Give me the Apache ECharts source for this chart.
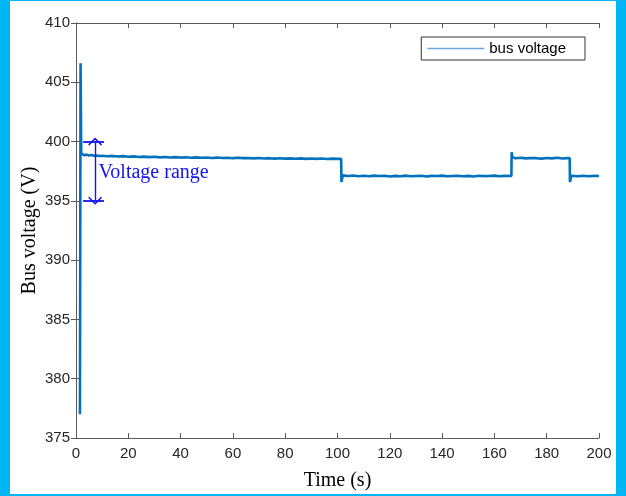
<!DOCTYPE html>
<html><head><meta charset="utf-8">
<script src="https://cdn.jsdelivr.net/npm/echarts@6/dist/echarts.min.js"></script>
<style>html,body{margin:0;padding:0;background:#00b5f4;}#c{width:626px;height:496px;}</style>
</head><body><div id="c"></div>
<script>
// time (s)
const time = [
 1.5,1.6,1.75,1.85,2.0,2.3,3,4,5,6,7,8,9,10,12,14,16,18,20,22,24,26,28,30,32,34,36,38,40,42,44,46,48,50,52,54,56,58,60,62,64,66,68,70,72,74,76,78,80,82,84,86,88,90,92,94,96,98,100,101.4,
 101.5,101.7,102.0,104,106,108,110,112,114,116,118,120,122,124,126,128,130,132,134,136,138,140,142,144,146,148,150,152,154,156,158,160,162,164,166.5,
 166.6,166.8,167.2,168,170,172,174,176,178,180,182,184,186,188,188.8,
 188.9,189.1,189.4,190,192,194,196,198,200
];
// bus voltage (V)
const voltage = [
 377.0,377.1,406.6,406.5,399.0,398.95,398.85,398.9,398.82,398.86,398.8,398.83,398.78,398.8,398.76,398.79,398.74,398.77,398.72,398.75,398.7,398.73,398.69,398.72,398.67,398.7,398.66,398.69,398.65,398.68,398.64,398.67,398.63,398.66,398.62,398.65,398.61,398.64,398.6,398.63,398.6,398.62,398.58,398.61,398.57,398.6,398.56,398.59,398.56,398.58,398.55,398.58,398.54,398.57,398.54,398.57,398.53,398.56,398.54,398.55,
 396.6,396.7,397.15,397.1,397.14,397.08,397.12,397.07,397.13,397.09,397.12,397.06,397.11,397.08,397.13,397.07,397.1,397.12,397.06,397.11,397.09,397.13,397.07,397.1,397.12,397.08,397.11,397.06,397.12,397.09,397.1,397.13,397.07,397.11,397.1,
 399.1,398.7,398.62,398.6,398.64,398.58,398.62,398.6,398.56,398.61,398.58,398.63,398.57,398.6,398.6,
 396.6,396.7,397.12,397.1,397.08,397.12,397.07,397.11,397.09
];
const xTicks = [0,20,40,60,80,100,120,140,160,180,200];
const yTicks = [375,380,385,390,395,400,405,410];
const rangeTop = 400, rangeBottom = 395;
const rangeLabel = 'Voltage range';
const seriesName = 'bus voltage';

const chart = echarts.init(document.getElementById('c'));
const axisCol = '#262626';
const lineCol = '#5a5a5a';
const base = {
  axisLine:{show:true,lineStyle:{color:lineCol,width:1}},
  axisTick:{show:true,inside:true,length:5,lineStyle:{color:lineCol}},
  splitLine:{show:false},
  axisLabel:{color:axisCol,fontFamily:'Liberation Sans, Arial',fontSize:15}
};
const annBlue = '#1414f0';
const chev = 'path://M0,0 L7,7 L5.8,8 L0,2.2 L-5.8,8 L-7,7 Z';
chart.setOption({
  animation:false,
  backgroundColor:'transparent',
  graphic:[{type:'rect',shape:{x:10,y:1,width:606,height:493},style:{fill:'#ffffff'},z:-100,silent:true}],
  grid:{left:76,right:27,top:23,bottom:58,containLabel:false},
  legend:{
    data:[{name:seriesName,icon:'path://M0,0 L100,0 L100,3 L0,3 Z'}],
    right:41,top:37,orient:'vertical',
    itemWidth:57,itemHeight:2,itemGap:0,
    padding:[4,19,4,6],
    borderColor:'#333',borderWidth:1,borderRadius:0,
    backgroundColor:'#fff',
    textStyle:{color:'#000',fontFamily:'Liberation Sans, Arial',fontSize:15},
    itemStyle:{color:'#6aa6d8'},
    lineStyle:{color:'#6aa6d8'}
  },
  xAxis:[
    Object.assign({},base,{type:'value',min:0,max:200,interval:20,position:'bottom',
      name:'Time (s)',nameLocation:'middle',nameGap:33,nameMoveOverlap:false,
      nameTextStyle:{fontFamily:'Liberation Serif, Times New Roman',fontSize:20,color:'#000'},
      axisLabel:Object.assign({},base.axisLabel,{margin:8})}),
    Object.assign({},base,{type:'value',min:0,max:200,interval:20,position:'top',axisLabel:{show:false}})
  ],
  yAxis:[
    Object.assign({},base,{type:'value',min:375,max:410,interval:5,position:'left',
      name:'Bus voltage (V)',nameLocation:'middle',nameGap:36,nameMoveOverlap:false,
      nameTextStyle:{fontFamily:'Liberation Serif, Times New Roman',fontSize:20,color:'#000'},
      axisLabel:Object.assign({},base.axisLabel,{margin:6})}),
    Object.assign({},base,{type:'value',min:375,max:410,interval:5,position:'right',axisLabel:{show:false}})
  ],
  series:[
    {name:seriesName,type:'line',xAxisIndex:0,yAxisIndex:0,
     data:time.map((t,i)=>[t,voltage[i]]),
     showSymbol:false,symbol:'none',
     lineStyle:{color:'#0072bd',width:2.6},itemStyle:{color:'#0072bd'},z:3},
    {name:'ann',type:'line',data:[],xAxisIndex:0,yAxisIndex:0,silent:true,
     markLine:{silent:true,animation:false,
       lineStyle:{color:annBlue,width:1.8,type:'solid'},label:{show:false},
       symbol:['none','none'],
       data:[
         [{coord:[2.7,rangeTop]},{coord:[10.7,rangeTop]}],
         [{coord:[2.7,rangeBottom]},{coord:[10.7,rangeBottom]}],
         [{coord:[7.3,rangeTop],symbol:chev,symbolSize:[14,8],lineStyle:{width:1.4}},{coord:[7.3,rangeBottom],symbol:chev,symbolSize:[14,8]}]
       ]},
     markPoint:{silent:true,symbol:'circle',symbolSize:0,
       data:[{coord:[8.6,397.35],label:{show:true,position:'right',distance:0,formatter:rangeLabel,
         color:annBlue,fontFamily:'Liberation Serif, Times New Roman',fontSize:20}}]}
    }
  ]
});
</script></body></html>
